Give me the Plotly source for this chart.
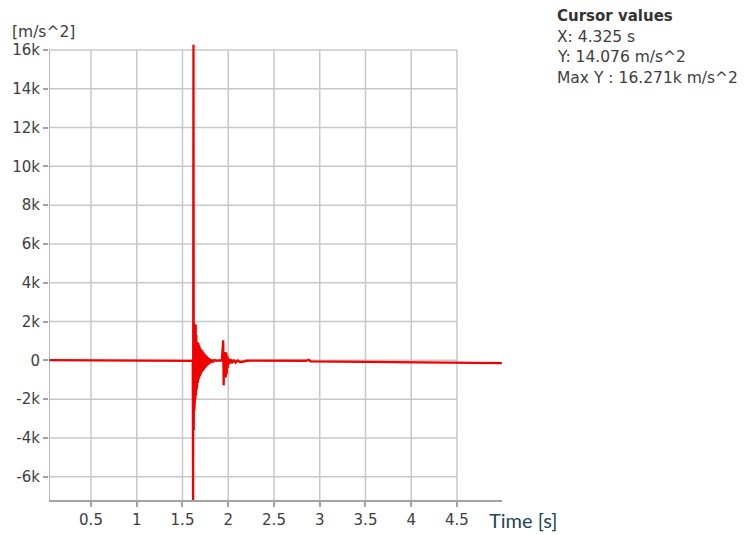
import plotly.graph_objects as go

# Acceleration record (time in s, acceleration in m/s^2)
time_s = [
    0.045, 0.30, 0.60, 0.90, 1.20, 1.40, 1.55, 1.60, 1.612,
    1.616, 1.620, 1.623, 1.626, 1.629, 1.632, 1.635, 1.638, 1.641, 1.644,
    1.647, 1.650, 1.653, 1.656, 1.660, 1.664, 1.668, 1.672, 1.676, 1.680,
    1.684, 1.688, 1.692, 1.697, 1.702, 1.707, 1.712, 1.717, 1.722, 1.728,
    1.734, 1.740, 1.746, 1.752, 1.758, 1.764, 1.770, 1.776, 1.782, 1.790,
    1.798, 1.806, 1.815, 1.825, 1.835, 1.850, 1.870, 1.900, 1.930,
    1.945, 1.950, 1.955, 1.960, 1.968, 1.973, 1.978, 1.983, 1.988, 1.993,
    2.000, 2.010, 2.025, 2.040, 2.060, 2.080, 2.100, 2.130, 2.170, 2.200,
    2.250, 2.500, 2.850, 2.880, 2.900, 3.200, 3.370, 3.380, 3.600, 4.000,
    4.500, 4.990,
]
accel_ms2 = [
    15, 10, 5, 0, -10, -15, -20, -15, -30,
    -7300, 16271, -3600, 1900, -2600, 1800, -2100, 1500, -2000, 1850,
    -1800, 1300, -1500, 1000, -1300, 950, -1150, 900, -1000, 800,
    -900, 700, -800, 600, -700, 550, -600, 500, -550, 420,
    -480, 350, -400, 280, -340, 220, -280, 160, -230, 110,
    -170, 60, -110, 30, -60, 10, -20, 0, -10,
    1030, -1290, 300, -400, 430, -880, 400, -700, 250, -400,
    120, -200, 60, -150, 30, -120, -10, -90, -60, -20,
    -10, -10, -20, 30, -50, -70, -80, -50, -85, -100,
    -120, -140,
]

x_ticks = [0.5, 1, 1.5, 2, 2.5, 3, 3.5, 4, 4.5]
x_tick_labels = ["0.5", "1", "1.5", "2", "2.5", "3", "3.5", "4", "4.5"]
y_ticks = [-6000, -4000, -2000, 0, 2000, 4000, 6000, 8000, 10000, 12000, 14000, 16000]
y_tick_labels = ["-6k", "-4k", "-2k", "0", "2k", "4k", "6k", "8k", "10k", "12k", "14k", "16k"]

x_range = [0.041, 4.992]
y_range = [-7200, 16309]

cursor_title = "Cursor values"
cursor_lines = ["X: 4.325 s", "Y: 14.076 m/s^2", "Max Y : 16.271k m/s^2"]

# Page geometry (pixels)
W, H = 748, 535
M_L, M_R, M_T, M_B = 49, 246, 44, 35
PLOT_W = W - M_L - M_R
PLOT_H = H - M_T - M_B


def px_to_paper(px, py):
    return (px - M_L) / PLOT_W, (H - M_B - py) / PLOT_H


GRID = "#c8c8c8"
AXIS = "#a3a3a3"
TEXT = "#3d3d3d"
FONT = "DejaVu Sans"

fig = go.Figure()
fig.add_trace(go.Scatter(
    x=time_s, y=accel_ms2, mode="lines",
    line=dict(color="#f00000", width=2.3),
    hoverinfo="skip", showlegend=False,
))

shapes = []
# vertical grid lines, ending at the top tick
for xv in x_ticks:
    shapes.append(dict(type="line", xref="x", yref="y", x0=xv, x1=xv,
                       y0=y_range[0], y1=y_ticks[-1], layer="below",
                       line=dict(color=GRID, width=1.5)))
# horizontal grid lines, ending at the last time tick
for yv in y_ticks:
    shapes.append(dict(type="line", xref="x", yref="y", x0=x_range[0], x1=x_ticks[-1],
                       y0=yv, y1=yv, layer="below",
                       line=dict(color=GRID, width=1.5)))
# left axis line
shapes.append(dict(type="line", xref="x", yref="y", x0=x_range[0], x1=x_range[0],
                   y0=y_range[0], y1=y_ticks[-1], layer="below",
                   line=dict(color=AXIS, width=1.5)))

annotations = []
ax, ay = px_to_paper(10, 32)
annotations.append(dict(text="[m/s^2]", x=ax, y=ay, xref="paper", yref="paper",
                        xanchor="left", yanchor="middle", showarrow=False,
                        font=dict(family=FONT, size=15.5, color=TEXT)))
ax, ay = px_to_paper(487, 520)
annotations.append(dict(text="Time [s]", x=ax, y=ay, xref="paper", yref="paper",
                        xanchor="left", yanchor="middle", showarrow=False,
                        font=dict(family="Lato", size=20, color="#24465a")))
ax, ay = px_to_paper(555, 16)
annotations.append(dict(text="<b>" + cursor_title + "</b>", x=ax, y=ay,
                        xref="paper", yref="paper", xanchor="left", yanchor="middle",
                        showarrow=False, font=dict(family=FONT, size=15, color="#333333")))
for i, line in enumerate(cursor_lines):
    ax, ay = px_to_paper(555, 37 + 20.5 * i)
    annotations.append(dict(text=line, x=ax, y=ay, xref="paper", yref="paper",
                            xanchor="left", yanchor="middle", showarrow=False,
                            font=dict(family=FONT, size=15.5, color=TEXT)))

fig.update_layout(
    width=W, height=H,
    margin=dict(l=M_L, r=M_R, t=M_T, b=M_B, pad=0, autoexpand=False),
    paper_bgcolor="white", plot_bgcolor="white",
    shapes=shapes, annotations=annotations,
    xaxis=dict(range=x_range, tickvals=x_ticks, ticktext=x_tick_labels,
               automargin=False,
               showgrid=False, zeroline=False, showline=True, linecolor=AXIS,
               linewidth=1.5, ticks="outside", ticklen=5, tickcolor=AXIS, tickwidth=1.5,
               tickfont=dict(family=FONT, size=15, color=TEXT)),
    yaxis=dict(range=y_range, tickvals=y_ticks, ticktext=y_tick_labels,
               automargin=False,
               showgrid=False, zeroline=False, showline=False,
               ticks="outside", ticklen=5, tickcolor=AXIS, tickwidth=1.5,
               tickfont=dict(family=FONT, size=15, color=TEXT)),
)

fig.write_html("out.html")
